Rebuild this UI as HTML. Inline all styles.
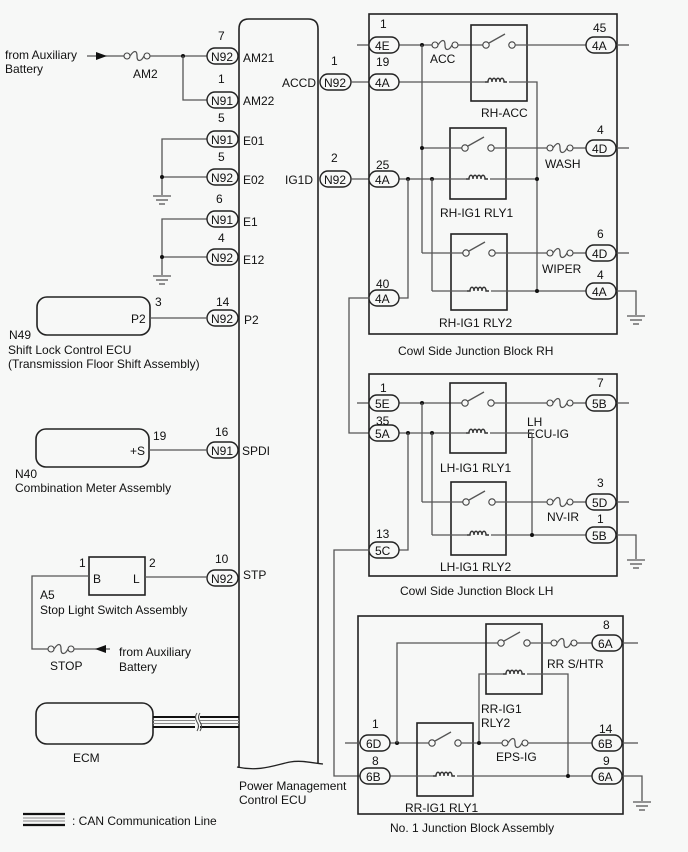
<!DOCTYPE html>
<html><head><meta charset="utf-8"><style>
html,body{margin:0;padding:0;background:#f7f8f7;}
svg{display:block;}
text{font-family:"Liberation Sans",sans-serif;font-size:12px;fill:#111;}
.w{stroke:#555;stroke-width:1.3;fill:none;}
.b{stroke:#222;stroke-width:1.6;fill:none;}
.c{stroke:#222;stroke-width:1.4;fill:#f7f8f7;}
.d{fill:#111;}
</style></head><body>
<svg width="688" height="852" viewBox="0 0 688 852" xmlns="http://www.w3.org/2000/svg">
<defs>
<g id="fuse"><circle cx="3" cy="0" r="3" class="c" style="stroke:#444;stroke-width:1.1"/><path d="M6,0 C10,-6 13,-6 13,0 C13,6 17,6 20,0" class="w"/><circle cx="23" cy="0" r="3" class="c" style="stroke:#444;stroke-width:1.1"/></g>
<g id="sw"><circle cx="0" cy="0" r="3.2" class="c" style="stroke:#444;stroke-width:1.1"/><line x1="3" y1="-2" x2="19" y2="-11" class="w"/><circle cx="26" cy="0" r="3.2" class="c" style="stroke:#444;stroke-width:1.1"/></g>
<g id="coil"><path d="M-12,0 h3 c0,-5 4,-5 4,0 c0,-5 4,-5 4,0 c0,-5 4,-5 4,0 c0,-5 4,-5 4,0 h3" class="w" style="stroke:#333;stroke-width:1.4"/></g>
<g id="gnd"><line x1="-9" y1="0" x2="9" y2="0" class="w"/><line x1="-6" y1="4" x2="6" y2="4" class="w"/><line x1="-3" y1="8" x2="3" y2="8" class="w"/></g>
</defs>

<!-- ECU body -->
<path d="M239,768 V29 Q239,19 249,19 H308 Q318,19 318,29 V764" class="b"/>
<path d="M237,767 C260,772 275,765 290,762 C302,760 312,763 323,764" class="b" style="stroke-width:1.3"/>

<!-- from auxiliary top -->
<text x="5" y="59">from Auxiliary</text><text x="5" y="73">Battery</text>
<line x1="87" y1="56" x2="124" y2="56" class="w"/>
<polygon points="96,52 107,56 96,60" class="d"/>
<use href="#fuse" x="124" y="56"/>
<text x="133" y="78">AM2</text>
<line x1="150" y1="56" x2="207" y2="56" class="w"/>
<circle cx="183" cy="56" r="2" class="d"/>
<polyline points="183,56 183,100 207,100" class="w"/>

<!-- grounds -->
<polyline points="207,139 162,139 162,195" class="w"/>
<line x1="162" y1="177" x2="207" y2="177" class="w"/><circle cx="162" cy="177" r="2" class="d"/>
<use href="#gnd" x="162" y="196"/>
<polyline points="207,219 162,219 162,275" class="w"/>
<line x1="162" y1="257" x2="207" y2="257" class="w"/><circle cx="162" cy="257" r="2" class="d"/>
<use href="#gnd" x="162" y="276"/>

<!-- left connectors -->
<g>
<rect x="207" y="48" width="31" height="16" rx="8" class="c"/><text x="211" y="61">N92</text><text x="218" y="40">7</text><text x="243" y="62">AM21</text>
<rect x="207" y="92" width="31" height="16" rx="8" class="c"/><text x="211" y="105">N91</text><text x="218" y="83">1</text><text x="243" y="105">AM22</text>
<rect x="207" y="131" width="31" height="16" rx="8" class="c"/><text x="211" y="144">N91</text><text x="218" y="122">5</text><text x="243" y="145">E01</text>
<rect x="207" y="169" width="31" height="16" rx="8" class="c"/><text x="211" y="182">N92</text><text x="218" y="161">5</text><text x="243" y="184">E02</text>
<rect x="207" y="211" width="31" height="16" rx="8" class="c"/><text x="211" y="224">N91</text><text x="216" y="203">6</text><text x="243" y="226">E1</text>
<rect x="207" y="249" width="31" height="16" rx="8" class="c"/><text x="211" y="262">N92</text><text x="218" y="242">4</text><text x="243" y="264">E12</text>
<rect x="207" y="310" width="31" height="16" rx="8" class="c"/><text x="211" y="323">N92</text><text x="216" y="306">14</text><text x="244" y="324">P2</text>
<rect x="207" y="442" width="31" height="16" rx="8" class="c"/><text x="211" y="455">N91</text><text x="215" y="436">16</text><text x="242" y="455">SPDI</text>
<rect x="207" y="570" width="31" height="16" rx="8" class="c"/><text x="211" y="583">N92</text><text x="215" y="563">10</text><text x="243" y="579">STP</text>
</g>

<!-- N49 -->
<rect x="37" y="297" width="113" height="38" rx="10" class="b"/>
<text x="131" y="323">P2</text><text x="155" y="306">3</text>
<line x1="150" y1="318" x2="207" y2="318" class="w"/>
<text x="9" y="339">N49</text>
<text x="8" y="354">Shift Lock Control ECU</text>
<text x="8" y="368">(Transmission Floor Shift Assembly)</text>
<!-- N40 -->
<rect x="36" y="429" width="113" height="38" rx="10" class="b"/>
<text x="130" y="455">+S</text><text x="153" y="440">19</text>
<line x1="149" y1="450" x2="207" y2="450" class="w"/>
<text x="15" y="478">N40</text>
<text x="15" y="492">Combination Meter Assembly</text>
<!-- A5 -->
<rect x="89" y="557" width="56" height="38" class="b"/>
<text x="93" y="583">B</text><text x="133" y="583">L</text>
<text x="79" y="567">1</text><text x="149" y="567">2</text>
<line x1="145" y1="577" x2="207" y2="577" class="w"/>
<polyline points="89,576 32,576 32,649 48,649" class="w"/>
<text x="40" y="599">A5</text>
<text x="40" y="614">Stop Light Switch Assembly</text>
<use href="#fuse" x="48" y="649"/>
<line x1="74" y1="649" x2="110" y2="649" class="w"/>
<polygon points="106,645 95,649 106,653" class="d"/>
<text x="50" y="670">STOP</text>
<text x="119" y="656">from Auxiliary</text><text x="119" y="671">Battery</text>

<!-- ECM + CAN -->
<rect x="36" y="703" width="117" height="41" rx="11" class="b"/>
<text x="73" y="762">ECM</text>
<line x1="153" y1="717" x2="239" y2="717" stroke="#111" stroke-width="2"/>
<line x1="153" y1="720.5" x2="239" y2="720.5" stroke="#888" stroke-width="1"/>
<line x1="153" y1="723.5" x2="239" y2="723.5" stroke="#888" stroke-width="1"/>
<line x1="153" y1="727" x2="239" y2="727" stroke="#111" stroke-width="2"/>
<rect x="195" y="713" width="5" height="18" fill="#f7f8f7"/>
<path d="M197,713 q-3,4 0,9 q3,4 0,9" stroke="#444" fill="none" stroke-width="1"/>
<path d="M200,713 q-3,4 0,9 q3,4 0,9" stroke="#444" fill="none" stroke-width="1"/>
<text x="239" y="790">Power Management</text>
<text x="239" y="804">Control ECU</text>
<line x1="23" y1="814" x2="65" y2="814" stroke="#111" stroke-width="2.2"/>
<line x1="23" y1="818" x2="65" y2="818" stroke="#888" stroke-width="1"/>
<line x1="23" y1="821" x2="65" y2="821" stroke="#888" stroke-width="1"/>
<line x1="23" y1="825" x2="65" y2="825" stroke="#111" stroke-width="2.2"/>
<text x="72" y="825">: CAN Communication Line</text>

<!-- ECU right connectors -->
<text x="282" y="87">ACCD</text><text x="331" y="65">1</text>
<rect x="320" y="74" width="31" height="16" rx="8" class="c"/><text x="324" y="87">N92</text>
<line x1="351" y1="82" x2="369" y2="82" class="w"/>
<text x="285" y="184">IG1D</text><text x="331" y="162">2</text>
<rect x="320" y="171" width="31" height="16" rx="8" class="c"/><text x="324" y="184">N92</text>
<line x1="351" y1="179" x2="369" y2="179" class="w"/>

<!-- RH block -->
<rect x="369" y="14" width="248" height="320" class="b"/>
<line x1="357" y1="45" x2="369" y2="45" class="w"/>
<line x1="399" y1="45" x2="432" y2="45" class="w"/>
<use href="#fuse" x="432" y="45"/>
<line x1="458" y1="45" x2="486" y2="45" class="w"/>
<text x="430" y="63">ACC</text>
<rect x="471" y="25" width="56" height="76" class="b"/>
<use href="#sw" x="486" y="45"/>
<line x1="515" y1="45" x2="586" y2="45" class="w"/>
<line x1="616" y1="45" x2="629" y2="45" class="w"/>
<line x1="399" y1="82" x2="485" y2="82" class="w"/>
<use href="#coil" x="497" y="82"/>
<polyline points="509,82 537,82 537,291" class="w"/>
<text x="481" y="117">RH-ACC</text>
<circle cx="422" cy="45" r="2" class="d"/>
<line x1="422" y1="45" x2="422" y2="253" class="w"/>
<!-- RLY1 -->
<rect x="450" y="128" width="56" height="71" class="b"/>
<line x1="422" y1="148" x2="465" y2="148" class="w"/><circle cx="422" cy="148" r="2" class="d"/>
<use href="#sw" x="465" y="148"/>
<line x1="494" y1="148" x2="547" y2="148" class="w"/>
<use href="#fuse" x="547" y="148"/>
<line x1="573" y1="148" x2="586" y2="148" class="w"/>
<line x1="616" y1="148" x2="629" y2="148" class="w"/>
<text x="545" y="168">WASH</text>
<line x1="399" y1="179" x2="466" y2="179" class="w"/>
<use href="#coil" x="478" y="179"/>
<line x1="490" y1="179" x2="537" y2="179" class="w"/>
<circle cx="408" cy="179" r="2" class="d"/><circle cx="432" cy="179" r="2" class="d"/><circle cx="537" cy="179" r="2" class="d"/>
<text x="440" y="217">RH-IG1 RLY1</text>
<polyline points="408,179 408,298 399,298" class="w"/>
<line x1="432" y1="179" x2="432" y2="291" class="w"/>
<!-- RLY2 -->
<rect x="451" y="234" width="56" height="76" class="b"/>
<line x1="422" y1="253" x2="466" y2="253" class="w"/>
<use href="#sw" x="466" y="253"/>
<line x1="495" y1="253" x2="547" y2="253" class="w"/>
<use href="#fuse" x="547" y="253"/>
<line x1="573" y1="253" x2="586" y2="253" class="w"/>
<line x1="616" y1="253" x2="629" y2="253" class="w"/>
<text x="542" y="273">WIPER</text>
<line x1="432" y1="291" x2="467" y2="291" class="w"/>
<use href="#coil" x="479" y="291"/>
<line x1="491" y1="291" x2="586" y2="291" class="w"/>
<circle cx="537" cy="291" r="2" class="d"/>
<polyline points="616,291 636,291 636,315" class="w"/>
<use href="#gnd" x="636" y="316"/>
<text x="439" y="327">RH-IG1 RLY2</text>
<text x="398" y="355">Cowl Side Junction Block RH</text>
<!-- RH connectors -->
<rect x="369" y="37" width="30" height="16" rx="8" class="c"/><text x="375" y="50">4E</text><text x="380" y="28">1</text>
<rect x="369" y="74" width="30" height="16" rx="8" class="c"/><text x="375" y="87">4A</text><text x="376" y="66">19</text>
<rect x="369" y="171" width="30" height="16" rx="8" class="c"/><text x="375" y="184">4A</text><text x="376" y="169">25</text>
<rect x="369" y="290" width="30" height="16" rx="8" class="c"/><text x="375" y="303">4A</text><text x="376" y="288">40</text>
<rect x="586" y="37" width="30" height="16" rx="8" class="c"/><text x="592" y="50">4A</text><text x="593" y="32">45</text>
<rect x="586" y="140" width="30" height="16" rx="8" class="c"/><text x="592" y="153">4D</text><text x="597" y="134">4</text>
<rect x="586" y="245" width="30" height="16" rx="8" class="c"/><text x="592" y="258">4D</text><text x="597" y="238">6</text>
<rect x="586" y="283" width="30" height="16" rx="8" class="c"/><text x="592" y="296">4A</text><text x="597" y="279">4</text>

<!-- link 4A(40) to 5A -->
<polyline points="369,298 349,298 349,433 369,433" class="w"/>

<!-- LH block -->
<rect x="369" y="374" width="248" height="202" class="b"/>
<line x1="357" y1="403" x2="369" y2="403" class="w"/>
<line x1="399" y1="403" x2="465" y2="403" class="w"/><circle cx="422" cy="403" r="2" class="d"/>
<rect x="450" y="383" width="56" height="70" class="b"/>
<use href="#sw" x="465" y="403"/>
<line x1="494" y1="403" x2="547" y2="403" class="w"/>
<use href="#fuse" x="547" y="403"/>
<line x1="573" y1="403" x2="586" y2="403" class="w"/>
<line x1="616" y1="403" x2="629" y2="403" class="w"/>
<text x="527" y="426">LH</text><text x="527" y="438">ECU-IG</text>
<line x1="399" y1="433" x2="466" y2="433" class="w"/>
<use href="#coil" x="478" y="433"/>
<line x1="490" y1="433" x2="532" y2="433" class="w"/>
<circle cx="408" cy="433" r="2" class="d"/><circle cx="432" cy="433" r="2" class="d"/>
<line x1="532" y1="433" x2="532" y2="535" class="w"/>
<text x="440" y="472">LH-IG1 RLY1</text>
<line x1="422" y1="403" x2="422" y2="502" class="w"/>
<line x1="432" y1="433" x2="432" y2="535" class="w"/>
<polyline points="408,433 408,550 399,550" class="w"/>
<rect x="451" y="482" width="55" height="73" class="b"/>
<line x1="422" y1="502" x2="466" y2="502" class="w"/>
<use href="#sw" x="466" y="502"/>
<line x1="495" y1="502" x2="547" y2="502" class="w"/>
<use href="#fuse" x="547" y="502"/>
<line x1="573" y1="502" x2="586" y2="502" class="w"/>
<line x1="616" y1="502" x2="629" y2="502" class="w"/>
<text x="547" y="521">NV-IR</text>
<line x1="432" y1="535" x2="467" y2="535" class="w"/>
<use href="#coil" x="479" y="535"/>
<line x1="491" y1="535" x2="586" y2="535" class="w"/>
<circle cx="532" cy="535" r="2" class="d"/>
<polyline points="616,535 636,535 636,559" class="w"/>
<use href="#gnd" x="636" y="560"/>
<text x="440" y="571">LH-IG1 RLY2</text>
<text x="400" y="595">Cowl Side Junction Block LH</text>
<rect x="369" y="395" width="30" height="16" rx="8" class="c"/><text x="375" y="408">5E</text><text x="380" y="392">1</text>
<rect x="369" y="425" width="30" height="16" rx="8" class="c"/><text x="375" y="438">5A</text><text x="376" y="425">35</text>
<rect x="369" y="542" width="30" height="16" rx="8" class="c"/><text x="375" y="555">5C</text><text x="376" y="538">13</text>
<rect x="586" y="395" width="30" height="16" rx="8" class="c"/><text x="592" y="408">5B</text><text x="597" y="387">7</text>
<rect x="586" y="494" width="30" height="16" rx="8" class="c"/><text x="592" y="507">5D</text><text x="597" y="487">3</text>
<rect x="586" y="527" width="30" height="16" rx="8" class="c"/><text x="592" y="540">5B</text><text x="597" y="523">1</text>

<!-- link 5C to 6B -->
<polyline points="369,550 334,550 334,776 360,776" class="w"/>

<!-- No.1 JB -->
<rect x="358" y="616" width="265" height="198" class="b"/>
<line x1="345" y1="743" x2="360" y2="743" class="w"/>
<line x1="390" y1="743" x2="432" y2="743" class="w"/>
<circle cx="397" cy="743" r="2" class="d"/>
<polyline points="397,743 397,643 501,643" class="w"/>
<rect x="486" y="624" width="56" height="70" class="b"/>
<use href="#sw" x="501" y="643"/>
<line x1="530" y1="643" x2="551" y2="643" class="w"/>
<use href="#fuse" x="551" y="643"/>
<line x1="577" y1="643" x2="592" y2="643" class="w"/>
<line x1="622" y1="643" x2="638" y2="643" class="w"/>
<text x="547" y="668">RR S/HTR</text>
<polyline points="479,743 479,674 503,674" class="w"/>
<use href="#coil" x="515" y="674"/>
<polyline points="527,674 568,674 568,776" class="w"/>
<text x="481" y="713">RR-IG1</text><text x="481" y="727">RLY2</text>
<rect x="417" y="723" width="56" height="73" class="b"/>
<use href="#sw" x="432" y="743"/>
<line x1="461" y1="743" x2="502" y2="743" class="w"/>
<circle cx="479" cy="743" r="2" class="d"/>
<use href="#fuse" x="502" y="743"/>
<line x1="528" y1="743" x2="592" y2="743" class="w"/>
<line x1="622" y1="743" x2="638" y2="743" class="w"/>
<text x="496" y="761">EPS-IG</text>
<line x1="390" y1="776" x2="433" y2="776" class="w"/>
<use href="#coil" x="445" y="776"/>
<line x1="457" y1="776" x2="592" y2="776" class="w"/>
<circle cx="568" cy="776" r="2" class="d"/>
<polyline points="622,776 642,776 642,801" class="w"/>
<use href="#gnd" x="642" y="802"/>
<text x="405" y="812">RR-IG1 RLY1</text>
<text x="390" y="832">No. 1 Junction Block Assembly</text>
<rect x="360" y="735" width="30" height="16" rx="8" class="c"/><text x="366" y="748">6D</text><text x="372" y="728">1</text>
<rect x="360" y="768" width="30" height="16" rx="8" class="c"/><text x="366" y="781">6B</text><text x="372" y="765">8</text>
<rect x="592" y="635" width="30" height="16" rx="8" class="c"/><text x="598" y="648">6A</text><text x="603" y="629">8</text>
<rect x="592" y="735" width="30" height="16" rx="8" class="c"/><text x="598" y="748">6B</text><text x="599" y="733">14</text>
<rect x="592" y="768" width="30" height="16" rx="8" class="c"/><text x="598" y="781">6A</text><text x="603" y="765">9</text>
</svg>
</body></html>
